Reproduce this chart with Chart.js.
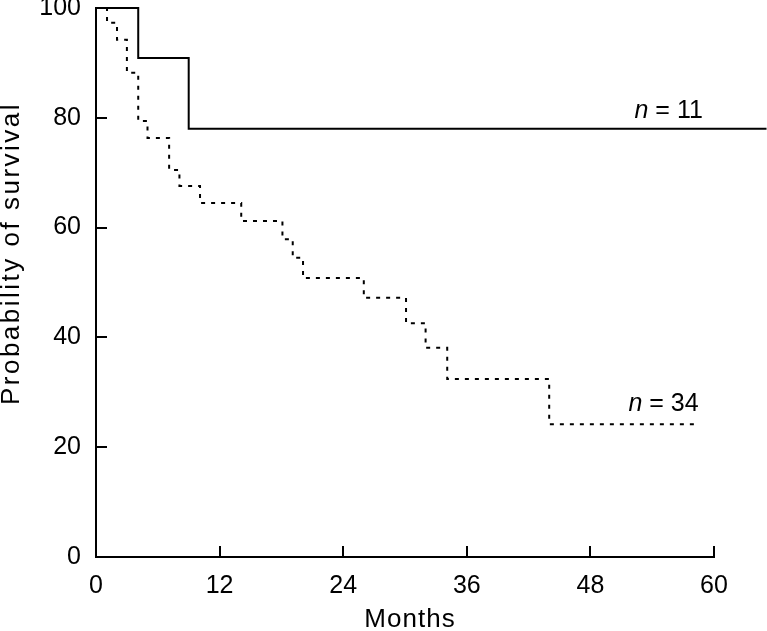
<!DOCTYPE html>
<html>
<head>
<meta charset="utf-8">
<script src="https://cdn.jsdelivr.net/npm/chart.js@4.4.1/dist/chart.umd.min.js"></script>
<style>
  html, body { margin: 0; padding: 0; background: #ffffff; }
  #wrap { width: 767px; height: 631px; position: relative; }
</style>
</head>
<body>
<div id="wrap"><canvas id="c" width="767" height="631"></canvas></div>
<script>
// Kaplan-Meier estimates: month of each step, survival (%) after the step
const groupA_months   = [0, 4.1, 9.0, 65.1];
const groupA_survival = [100, 90.9, 78.0, 78.0];
const groupA_label    = "11";

const groupB_months   = [0, 1.07, 2.04, 3.0, 4.1, 5.0, 7.1, 8.1, 10.1, 14.1, 18.1, 19.1, 20.1, 26.0, 30.1, 32.0, 34.1, 44.0, 58.2];
const groupB_survival = [100, 97.3, 94.2, 88.2, 79.4, 76.3, 70.5, 67.6, 64.5, 61.2, 57.9, 54.5, 50.8, 47.2, 42.6, 38.1, 32.4, 24.2, 24.2];
const groupB_label    = "34";

const xTicks = [0, 12, 24, 36, 48, 60];
const yTicks = [0, 20, 40, 60, 80, 100];

const xTitle = "Months";
const yTitle = "Probability of survival";

// annotation anchor (data coordinates)
const labelA_pos = { x: 55.6, y: 81.2 };
const labelB_pos = { x: 55.1, y: 27.9 };

const FONT = "'Liberation Sans', Arial, Helvetica, sans-serif";
const FS = 25;

function toPoints(xs, ys) { return xs.map((x, i) => ({ x: x, y: ys[i] })); }

const decorations = {
  id: 'decorations',
  afterDraw(chart) {
    const ctx = chart.ctx;
    const xs = chart.scales.x, ys = chart.scales.y;
    const len = 11;
    ctx.save();
    ctx.strokeStyle = '#000';
    ctx.lineWidth = 2;
    ctx.beginPath();
    xTicks.forEach(v => {
      if (v === 0) return;
      const px = Math.round(xs.getPixelForValue(v));
      ctx.moveTo(px, ys.bottom);
      ctx.lineTo(px, ys.bottom - len);
    });
    yTicks.forEach(v => {
      if (v === 0) return;
      const py = Math.round(ys.getPixelForValue(v));
      ctx.moveTo(xs.left, py);
      ctx.lineTo(xs.left + len, py);
    });
    ctx.stroke();

    ctx.fillStyle = '#000';
    // axis titles
    ctx.font = '26px ' + FONT;
    ctx.textAlign = 'center';
    ctx.textBaseline = 'middle';
    ctx.letterSpacing = '1px';
    ctx.fillText(xTitle, (xs.left + xs.right) / 2 + 5, 620);
    ctx.save();
    ctx.translate(12, (ys.top + ys.bottom) / 2 - 29);
    ctx.rotate(-Math.PI / 2);
    ctx.letterSpacing = '2.5px';
    ctx.fillText(yTitle, 0, 0);
    ctx.restore();
    ctx.letterSpacing = '0px';

    // n = ... labels
    const drawN = (pos, txt) => {
      const cx = xs.getPixelForValue(pos.x);
      const cy = ys.getPixelForValue(pos.y);
      ctx.font = 'italic ' + FS + 'px ' + FONT;
      const w1 = ctx.measureText('n').width;
      ctx.font = FS + 'px ' + FONT;
      const rest = ' = ' + txt;
      const w2 = ctx.measureText(rest).width;
      const x0 = cx - (w1 + w2) / 2;
      ctx.textBaseline = 'middle';
      ctx.textAlign = 'left';
      ctx.font = 'italic ' + FS + 'px ' + FONT;
      ctx.fillText('n', x0, cy);
      ctx.font = FS + 'px ' + FONT;
      ctx.fillText(rest, x0 + w1, cy);
    };
    drawN(labelA_pos, groupA_label);
    drawN(labelB_pos, groupB_label);
    ctx.restore();
  }
};

new Chart(document.getElementById('c'), {
  type: 'line',
  data: {
    datasets: [
      {
        label: 'n = ' + groupA_label,
        data: toPoints(groupA_months, groupA_survival),
        borderColor: '#000',
        borderWidth: 2,
        stepped: true,
        pointRadius: 0,
        fill: false,
        clip: false
      },
      {
        label: 'n = ' + groupB_label,
        data: toPoints(groupB_months, groupB_survival),
        borderColor: '#000',
        borderWidth: 2,
        borderDash: [4, 6],
        stepped: true,
        pointRadius: 0,
        fill: false,
        clip: false
      }
    ]
  },
  options: {
    responsive: false,
    animation: false,
    devicePixelRatio: 1,
    layout: { padding: { left: 0, right: 53, top: 8, bottom: 0 } },
    plugins: { legend: { display: false }, tooltip: { enabled: false } },
    scales: {
      x: {
        type: 'linear',
        min: 0, max: 60,
        afterBuildTicks: s => { s.ticks = xTicks.map(v => ({ value: v })); },
        afterFit: s => { s.height = 74; s.paddingRight = 0; },
        grid: { display: false, drawTicks: false },
        border: { display: true, color: '#000', width: 2 },
        ticks: { color: '#000', padding: 14, maxRotation: 0, font: { family: FONT, size: FS } },
        title: { display: false, text: xTitle }
      },
      y: {
        type: 'linear',
        min: 0, max: 100,
        afterBuildTicks: s => { s.ticks = yTicks.map(v => ({ value: v })); },
        afterFit: s => { s.width = 96; s.paddingTop = 0; s.paddingBottom = 0; },
        grid: { display: false, drawTicks: false },
        border: { display: true, color: '#000', width: 2 },
        ticks: { color: '#000', padding: 15, font: { family: FONT, size: FS } },
        title: { display: false, text: yTitle }
      }
    }
  },
  plugins: [decorations]
});
</script>
</body>
</html>
